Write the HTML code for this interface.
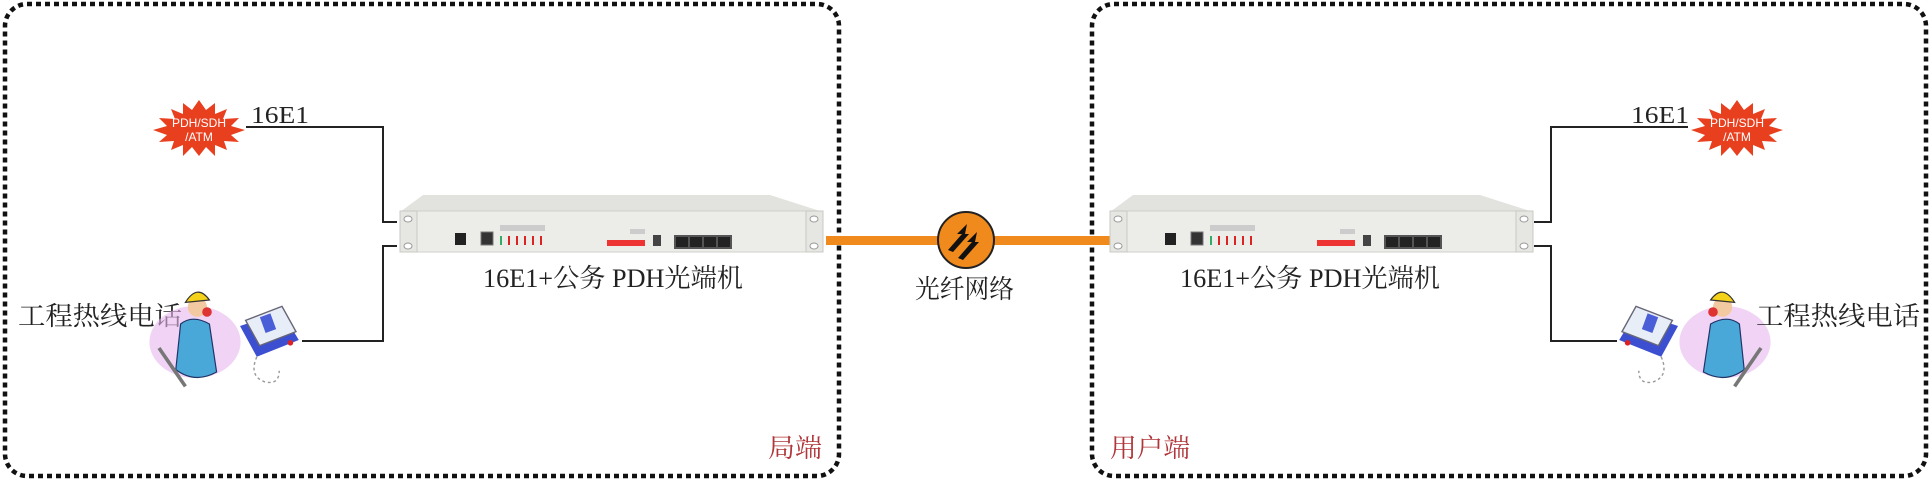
<!DOCTYPE html>
<html><head><meta charset="utf-8"><style>
html,body{margin:0;padding:0;background:#fff;width:1930px;height:480px;overflow:hidden}
svg{display:block}
text{font-family:"Liberation Serif","Noto Serif CJK SC","Noto Sans CJK SC",serif}
</style></head><body>
<svg width="1930" height="480" viewBox="0 0 1930 480" xmlns="http://www.w3.org/2000/svg">
<defs>
<g id="dev">
  <polygon points="423,195 770,195 823,212 400,212" fill="#e2e2de"/>
  <rect x="400" y="211" width="423" height="41" fill="#ecece8" stroke="#cfcfcb" stroke-width="1"/>
  <rect x="400" y="211" width="17" height="41" fill="#e6e6e2" stroke="#c8c8c4"/>
  <rect x="806" y="211" width="17" height="41" fill="#e6e6e2" stroke="#c8c8c4"/>
  <ellipse cx="408" cy="219" rx="4" ry="3" fill="#fff" stroke="#999"/>
  <ellipse cx="408" cy="246" rx="4" ry="3" fill="#fff" stroke="#999"/>
  <ellipse cx="814" cy="219" rx="4" ry="3" fill="#fff" stroke="#999"/>
  <ellipse cx="814" cy="246" rx="4" ry="3" fill="#fff" stroke="#999"/>
  <rect x="455" y="233" width="11" height="12" fill="#222"/>
  <rect x="481" y="232" width="12" height="13" fill="#333" stroke="#777"/>
  <rect x="500" y="236" width="2" height="9" fill="#3a6"/>
  <rect x="508" y="236" width="2" height="9" fill="#d22"/>
  <rect x="516" y="236" width="2" height="9" fill="#d22"/>
  <rect x="524" y="236" width="2" height="9" fill="#d22"/>
  <rect x="532" y="236" width="2" height="9" fill="#d22"/>
  <rect x="540" y="236" width="2" height="9" fill="#d22"/>
  <rect x="500" y="225" width="45" height="6" fill="#ccc"/>
  <rect x="607" y="240" width="38" height="6" fill="#e33"/>
  <rect x="630" y="229" width="15" height="5" fill="#ccc"/>
  <rect x="653" y="235" width="8" height="11" fill="#444"/>
  <rect x="674" y="235" width="58" height="14" fill="#555"/>
  <rect x="676" y="237" width="12" height="10" fill="#222"/>
  <rect x="690" y="237" width="12" height="10" fill="#222"/>
  <rect x="704" y="237" width="12" height="10" fill="#222"/>
  <rect x="718" y="237" width="12" height="10" fill="#222"/>
</g>
<g id="burst">
  <polygon fill="#e8401f" points="0,-28 7,-18 16,-25 16,-14 28,-19 24,-9 40,-10 32,-2 46,2 32,7 40,14 25,13 28,22 16,17 16,28 7,19 0,28 -7,19 -16,28 -16,17 -28,22 -25,13 -40,14 -32,7 -46,2 -32,-2 -40,-10 -24,-9 -28,-19 -16,-14 -16,-25 -7,-18"/>
  <text x="0" y="-1" font-size="12" fill="#fff" text-anchor="middle" style="font-family:'Liberation Sans',sans-serif">PDH/SDH</text>
  <text x="0" y="13" font-size="12" fill="#fff" text-anchor="middle" style="font-family:'Liberation Sans',sans-serif">/ATM</text>
</g>
<g id="phone">
  <polygon points="0,10 30,0 42,20 12,32" fill="#3c4fd0"/>
  <polygon points="4,6 30,-4 40,14 14,24" fill="#e8eef8" stroke="#667" stroke-width="1"/>
  <rect x="16" y="2" width="8" height="12" fill="#4a5ed8" transform="rotate(-20 20 8)"/>
  <circle cx="36" cy="22" r="2" fill="#d22"/>
  <path d="M12,32 q-6,14 6,18 q10,2 10,-8" fill="none" stroke="#999" stroke-dasharray="2,2"/>
</g>
<g id="person">
  <ellipse cx="0" cy="35" rx="38" ry="30" fill="#e8b8ee" opacity="0.6"/>
  <path d="M-12,20 q10,-8 24,0 l6,40 q-18,10 -34,-2 z" fill="#4aa8d8" stroke="#236" stroke-width="1"/>
  <circle cx="2" cy="6" r="8" fill="#f2c9a0"/>
  <path d="M-8,2 q10,-16 20,-2 z" fill="#f4d21a" stroke="#333"/>
  <circle cx="10" cy="10" r="4" fill="#d33"/>
  <path d="M-30,40 l22,32" stroke="#777" stroke-width="3"/>
</g>
</defs>

<rect x="5" y="4" width="834" height="472" rx="22" fill="none" stroke="#111" stroke-width="4.5" stroke-dasharray="5,4"/>
<rect x="1092" y="4" width="834" height="472" rx="22" fill="none" stroke="#111" stroke-width="4.5" stroke-dasharray="5,4"/>

<rect x="826" y="236" width="284" height="9" fill="#f08a1c"/>
<circle cx="966" cy="240" r="28" fill="#f08a1c" stroke="#222" stroke-width="2"/>
<path d="M948,250 l14,-16 l-5,0 l10,-10 l-2,10 l4,0 l-16,18 z" fill="#111"/>
<path d="M958,258 l14,-16 l-5,0 l10,-10 l-2,10 l4,0 l-16,18 z" fill="#111"/>

<polyline points="246,127 383,127 383,222 397,222" fill="none" stroke="#222" stroke-width="2"/>
<polyline points="302,341 383,341 383,246 397,246" fill="none" stroke="#222" stroke-width="2"/>
<use href="#dev"/>
<use href="#burst" transform="translate(199,128)"/>
<text x="251" y="123" font-size="24" textLength="58" lengthAdjust="spacingAndGlyphs" fill="#222">16E1</text>
<text x="483" y="287" font-size="26" textLength="260" lengthAdjust="spacingAndGlyphs" fill="#222">16E1+公务 PDH光端机</text>
<text x="18" y="325" font-size="26" textLength="164" lengthAdjust="spacingAndGlyphs" fill="#222">工程热线电话</text>
<use href="#person" transform="translate(195,300) scale(1.2)"/>
<use href="#phone" transform="translate(240,312) scale(1.4)"/>
<text x="768" y="457" font-size="26" textLength="54" lengthAdjust="spacingAndGlyphs" fill="#b0363a">局端</text>
<text x="915" y="298" font-size="26" textLength="99" lengthAdjust="spacingAndGlyphs" fill="#222">光纤网络</text>

<use href="#dev" transform="translate(710,0)"/>
<polyline points="1534,222 1551,222 1551,127 1688,127" fill="none" stroke="#222" stroke-width="2"/>
<polyline points="1534,246 1551,246 1551,341 1617,341" fill="none" stroke="#222" stroke-width="2"/>
<use href="#burst" transform="translate(1737,128)"/>
<text x="1631" y="123" font-size="24" textLength="58" lengthAdjust="spacingAndGlyphs" fill="#222">16E1</text>
<text x="1180" y="287" font-size="26" textLength="260" lengthAdjust="spacingAndGlyphs" fill="#222">16E1+公务 PDH光端机</text>
<use href="#phone" transform="translate(1678,312) scale(-1.4,1.4)"/>
<use href="#person" transform="translate(1725,300) scale(-1.2,1.2)"/>
<text x="1756" y="325" font-size="26" textLength="164" lengthAdjust="spacingAndGlyphs" fill="#222">工程热线电话</text>
<text x="1110" y="457" font-size="26" textLength="80" lengthAdjust="spacingAndGlyphs" fill="#b0363a">用户端</text>
</svg>
</body></html>
